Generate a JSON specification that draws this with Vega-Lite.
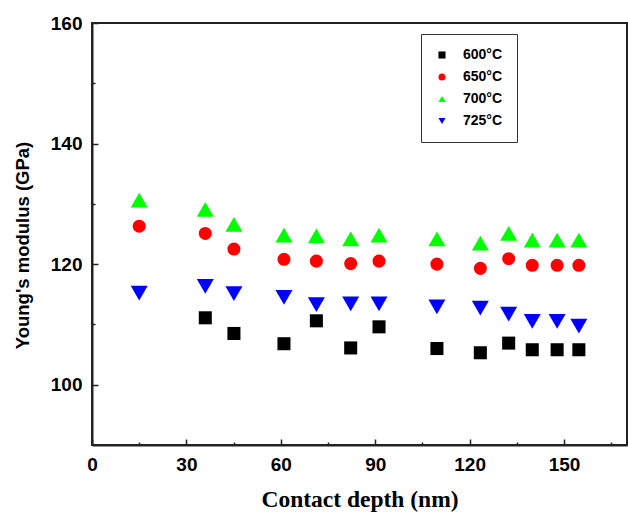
{
  "$schema": "https://vega.github.io/schema/vega-lite/v6.json",
  "autosize": "none",
  "width": 535,
  "height": 422,
  "padding": {"left": 92, "top": 23, "right": 1, "bottom": 67},
  "background": "white",
  "config": {
    "view": {"stroke": "#222", "strokeWidth": 2},
    "axis": {"grid": false, "domainColor": "#222", "domainWidth": 2, "tickColor": "#222", "tickWidth": 1.5,
             "labelFont": "Liberation Sans", "labelFontWeight": "bold", "labelFontSize": 19, "labelColor": "#000",
             "labelFlush": false, "labelOverlap": false,
             "titleFontWeight": "bold", "titleColor": "#000"}
  },
  "data": {"values": [
    {"depth": 36, "modulus": 111.1, "temp": "600°C"},
    {"depth": 45.1, "modulus": 108.5, "temp": "600°C"},
    {"depth": 61, "modulus": 106.8, "temp": "600°C"},
    {"depth": 71.3, "modulus": 110.6, "temp": "600°C"},
    {"depth": 82.2, "modulus": 106.1, "temp": "600°C"},
    {"depth": 91.2, "modulus": 109.6, "temp": "600°C"},
    {"depth": 109.6, "modulus": 106.0, "temp": "600°C"},
    {"depth": 123.4, "modulus": 105.3, "temp": "600°C"},
    {"depth": 132.4, "modulus": 106.9, "temp": "600°C"},
    {"depth": 139.9, "modulus": 105.8, "temp": "600°C"},
    {"depth": 147.8, "modulus": 105.8, "temp": "600°C"},
    {"depth": 154.7, "modulus": 105.8, "temp": "600°C"},
    {"depth": 15, "modulus": 126.3, "temp": "650°C"},
    {"depth": 36, "modulus": 125.1, "temp": "650°C"},
    {"depth": 45.1, "modulus": 122.5, "temp": "650°C"},
    {"depth": 61, "modulus": 120.8, "temp": "650°C"},
    {"depth": 71.3, "modulus": 120.5, "temp": "650°C"},
    {"depth": 82.2, "modulus": 120.1, "temp": "650°C"},
    {"depth": 91.2, "modulus": 120.5, "temp": "650°C"},
    {"depth": 109.6, "modulus": 120.0, "temp": "650°C"},
    {"depth": 123.4, "modulus": 119.3, "temp": "650°C"},
    {"depth": 132.4, "modulus": 120.9, "temp": "650°C"},
    {"depth": 139.9, "modulus": 119.8, "temp": "650°C"},
    {"depth": 147.8, "modulus": 119.8, "temp": "650°C"},
    {"depth": 154.7, "modulus": 119.8, "temp": "650°C"},
    {"depth": 15, "modulus": 130.6, "temp": "700°C"},
    {"depth": 36, "modulus": 129.1, "temp": "700°C"},
    {"depth": 45.1, "modulus": 126.6, "temp": "700°C"},
    {"depth": 61, "modulus": 124.8, "temp": "700°C"},
    {"depth": 71.3, "modulus": 124.7, "temp": "700°C"},
    {"depth": 82.2, "modulus": 124.2, "temp": "700°C"},
    {"depth": 91.2, "modulus": 124.8, "temp": "700°C"},
    {"depth": 109.6, "modulus": 124.2, "temp": "700°C"},
    {"depth": 123.4, "modulus": 123.5, "temp": "700°C"},
    {"depth": 132.4, "modulus": 125.1, "temp": "700°C"},
    {"depth": 139.9, "modulus": 124.0, "temp": "700°C"},
    {"depth": 147.8, "modulus": 124.0, "temp": "700°C"},
    {"depth": 154.7, "modulus": 124.0, "temp": "700°C"},
    {"depth": 15, "modulus": 115.2, "temp": "725°C"},
    {"depth": 36, "modulus": 116.3, "temp": "725°C"},
    {"depth": 45.1, "modulus": 115.1, "temp": "725°C"},
    {"depth": 61, "modulus": 114.5, "temp": "725°C"},
    {"depth": 71.3, "modulus": 113.3, "temp": "725°C"},
    {"depth": 82.2, "modulus": 113.4, "temp": "725°C"},
    {"depth": 91.2, "modulus": 113.4, "temp": "725°C"},
    {"depth": 109.6, "modulus": 112.9, "temp": "725°C"},
    {"depth": 123.4, "modulus": 112.7, "temp": "725°C"},
    {"depth": 132.4, "modulus": 111.7, "temp": "725°C"},
    {"depth": 139.9, "modulus": 110.5, "temp": "725°C"},
    {"depth": 147.8, "modulus": 110.5, "temp": "725°C"},
    {"depth": 154.7, "modulus": 109.7, "temp": "725°C"}
  ]},
  "resolve": {"axis": {"x": "independent", "y": "independent"}},
  "layer": [
    {
      "transform": [{"filter": {"field": "temp", "oneOf": ["600°C", "650°C"]}}],
      "mark": {"type": "point", "filled": true, "opacity": 1, "size": 170},
      "encoding": {
        "x": {"field": "depth", "type": "quantitative", "scale": {"domain": [0, 170], "nice": false, "zero": false},
              "axis": {"orient": "bottom", "values": [0, 30, 60, 90, 120, 150], "tickSize": -6, "labelPadding": 16,
                       "title": "Contact depth (nm)", "titlePadding": 13, "titleFont": "Liberation Serif", "titleFontSize": 23.5}},
        "y": {"field": "modulus", "type": "quantitative", "scale": {"domain": [90, 160], "nice": false, "zero": false},
              "axis": {"orient": "left", "values": [100, 120, 140, 160], "tickSize": -6, "labelPadding": 16,
                       "title": "Young's modulus (GPa)", "titleFont": "Liberation Sans", "titleFontSize": 18.5,
                       "titleX": -60, "titleY": 222}},
        "color": {"field": "temp", "type": "nominal",
                  "scale": {"domain": ["600°C", "650°C", "700°C", "725°C"], "range": ["#000000", "#ff0000", "#00ff00", "#0000ff"]},
                  "legend": {"orient": "none", "legendX": 329, "legendY": 11, "title": null,
                             "strokeColor": "#333", "padding": 14, "rowPadding": 8,
                             "labelFont": "Liberation Sans", "labelFontWeight": "bold", "labelFontSize": 14, "labelColor": "#000",
                             "labelOffset": 14, "symbolSize": 50, "fillColor": "white"}},
        "shape": {"field": "temp", "type": "nominal",
                  "scale": {"domain": ["600°C", "650°C", "700°C", "725°C"], "range": ["square", "circle", "triangle-up", "triangle-down"]}}
      }
    },
    {
      "transform": [{"filter": {"field": "temp", "oneOf": ["700°C", "725°C"]}}],
      "mark": {"type": "point", "filled": true, "opacity": 1, "size": 290},
      "encoding": {
        "x": {"field": "depth", "type": "quantitative", "axis": null},
        "y": {"field": "modulus", "type": "quantitative", "axis": null},
        "color": {"field": "temp", "type": "nominal"},
        "shape": {"field": "temp", "type": "nominal"}
      }
    },
    {
      "mark": {"type": "point", "opacity": 0},
      "encoding": {
        "x": {"field": "depth", "type": "quantitative",
              "axis": {"orient": "bottom", "values": [15, 45, 75, 105, 135, 165], "tickSize": -3, "labels": false, "domain": false, "title": null}},
        "y": {"field": "modulus", "type": "quantitative",
              "axis": {"orient": "left", "values": [110, 130, 150], "tickSize": -3, "labels": false, "domain": false, "title": null}}
      }
    }
  ]
}
